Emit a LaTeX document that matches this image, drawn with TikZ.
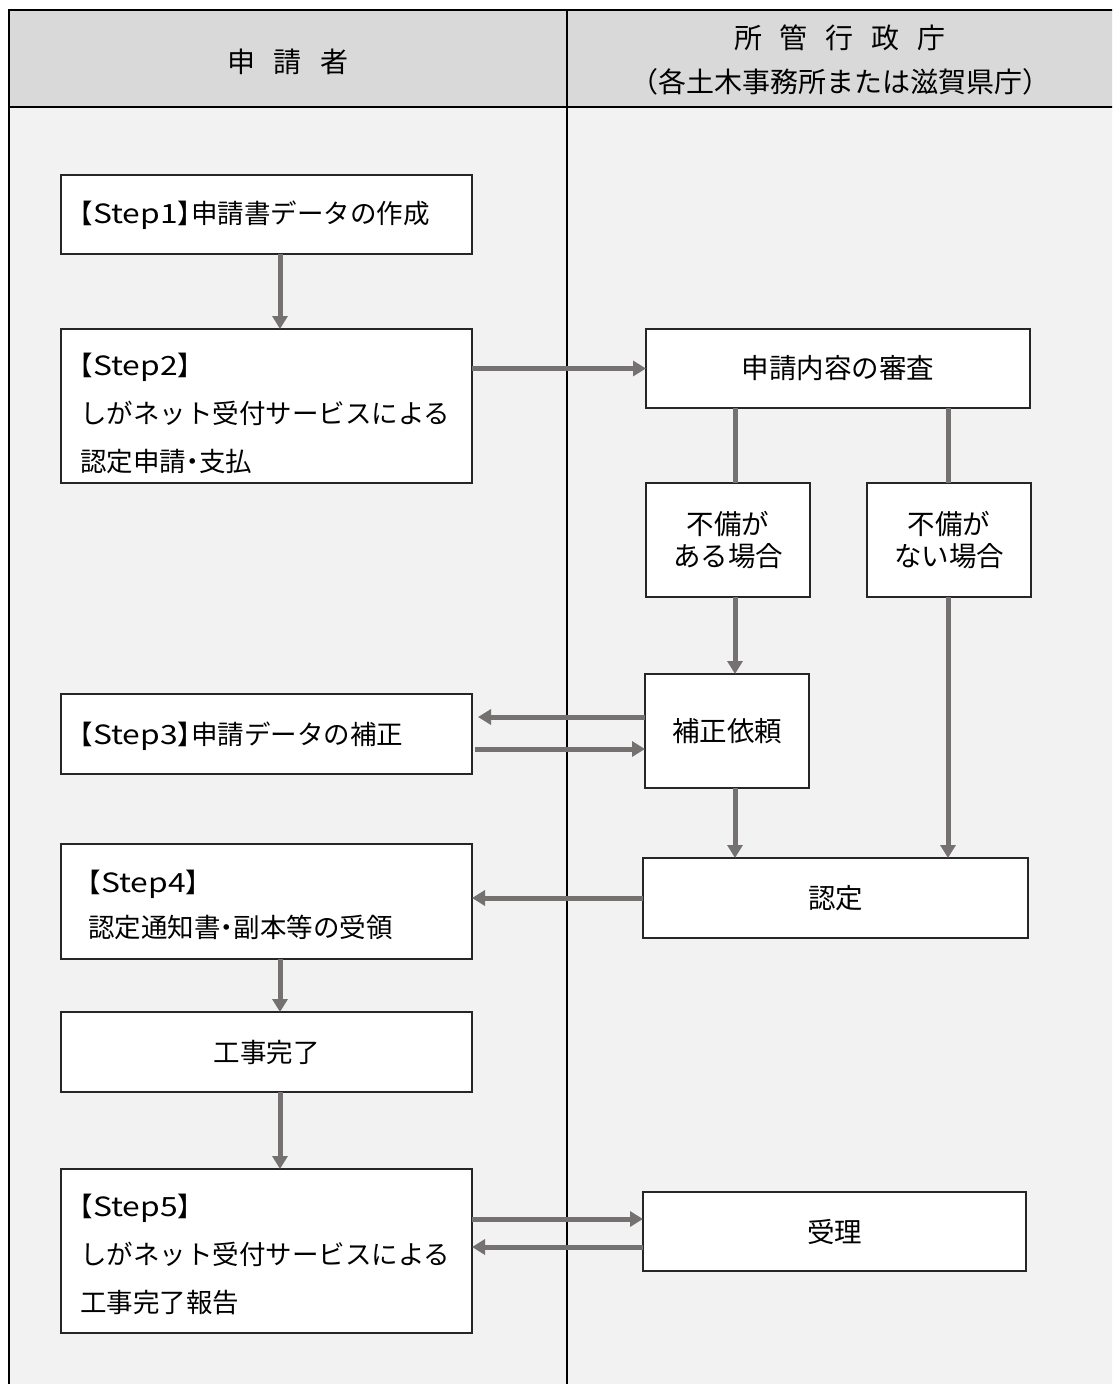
\documentclass[tikz,border=0pt]{standalone}
\usepackage{fontspec}
\setmainfont{Noto Sans CJK JP}
\newfontfamily\bxfont{Noto Sans CJK JP}[RawFeature=+halt]
\newfontfamily\latwide{Noto Sans CJK JP}[FakeStretch=1.2]
\usetikzlibrary{arrows.meta}
\definecolor{arr}{HTML}{767171}
\definecolor{hdr}{HTML}{D9D9D9}
\definecolor{bdy}{HTML}{F2F2F2}
\definecolor{bx}{HTML}{262626}
\newcommand{\stp}[1]{【{\latwide Step#1}】}
\begin{document}
\begin{tikzpicture}[x=1pt,y=-1pt,
  box/.style={draw=bx, line width=1.3pt, fill=white, inner sep=0pt, outer sep=0pt},
  lbox/.style={box, minimum width=411pt},
  ltext/.style={inner sep=0pt, text width=373pt, align=left, font=\bxfont\fontsize{26.5}{48}\selectfont},
  cbox/.style={box, align=center, font=\bxfont\fontsize{26.5}{32}\selectfont},
  rbox/.style={box, align=center, font=\bxfont\fontsize{27.5}{32}\selectfont},
  hdrtext/.style={inner sep=0pt, font=\fontsize{28}{34}\selectfont},
  flow/.style={draw=arr, line width=5pt, -{Triangle[length=13pt,width=15pt]}},
  link/.style={draw=arr, line width=5pt},
]
\path[use as bounding box] (0,0) rectangle (1112,1384);
\clip (0,0) rectangle (1112,1384);
% table background
\fill[white] (0,0) rectangle (1112,1384);
\fill[hdr] (9,10) rectangle (1115,107);
\fill[bdy] (9,107) rectangle (1115,1390);
\draw[line width=2.5pt] (9,1390) -- (9,10) -- (1115,10);
\draw[line width=2.5pt] (9,107) -- (1115,107);
\draw[line width=2pt] (567,10) -- (567,1390);
% headers
\node[hdrtext] (happ) at (288,62) {申\hspace{19pt}請\hspace{19pt}者};
\node[hdrtext] (hgov) at (840,38) {所\hspace{18pt}管\hspace{18pt}行\hspace{18pt}政\hspace{18pt}庁};
\node[hdrtext] (hgov2) at (840,82) {（各土木事務所または滋賀県庁）};
% left column boxes
\node[lbox, minimum height=79pt] (s1) at (266.5,214.5) {};
\node[lbox, minimum height=154pt] (s2) at (266.5,406) {};
\node[lbox, minimum height=80pt] (s3) at (266.5,734) {};
\node[lbox, minimum height=115pt] (s4) at (266.5,901.5) {};
\node[cbox, minimum width=411pt, minimum height=80pt] (done) at (266.5,1052) {工事完了};
\node[lbox, minimum height=164pt] (s5) at (266.5,1251) {};
% left column texts
\node[ltext] (s1t) at ([yshift=-1pt]s1.center) {\stp{1}申請書データの作成};
\node[ltext] (s2t) at ([yshift=-7pt]s2.center) {\stp{2}\\しがネット受付サービスによる\\認定申請・支払};
\node[ltext] (s3t) at ([yshift=-2pt]s3.center) {\stp{3}申請データの補正};
\node[ltext, text width=365pt, font=\bxfont\fontsize{26.5}{45}\selectfont] (s4t) at ([xshift=4pt,yshift=-3pt]s4.center) {\stp{4}\\認定通知書・副本等の受領};
\node[ltext] (s5t) at ([yshift=-3pt]s5.center) {\stp{5}\\しがネット受付サービスによる\\工事完了報告};
% right column
\node[rbox, minimum width=384pt, minimum height=79pt] (rev) at (838,368.5) {申請内容の審査};
\node[rbox, minimum width=164pt, minimum height=114pt] (ng1) at (728,540) {不備が\\ある場合};
\node[rbox, minimum width=164pt, minimum height=114pt] (ng2) at (949,540) {不備が\\ない場合};
\node[rbox, minimum width=164pt, minimum height=114pt] (fix) at (727,731) {補正依頼};
\node[rbox, minimum width=385pt, minimum height=80pt] (nin) at (835.5,898) {認定};
\node[rbox, minimum width=383pt, minimum height=79pt] (rec) at (834.5,1231.5) {受理};
% helper coordinates
\coordinate (lx) at (280,0);
\coordinate (ax) at (735,0);
\coordinate (bx) at (948,0);
\coordinate (ya) at (0,717);
\coordinate (yb) at (0,749);
\coordinate (yc) at (0,1219);
\coordinate (yd) at (0,1247);
% connectors
\draw[flow] (s1.south -| lx) -- (s2.north -| lx);
\draw[flow] (s2.east |- rev.west) -- (rev.west);
\draw[link] (rev.south -| ax) -- (ng1.north -| ax);
\draw[link] (rev.south -| bx) -- (ng2.north -| bx);
\draw[flow] (ng1.south -| ax) -- (fix.north -| ax);
\draw[flow] (fix.west |- ya) -- ([xshift=6pt]s3.east |- ya);
\draw[flow] ([xshift=3pt]s3.east |- yb) -- (fix.west |- yb);
\draw[flow] (fix.south -| ax) -- (nin.north -| ax);
\draw[flow] (ng2.south -| bx) -- (nin.north -| bx);
\draw[flow] (nin.west) -- (s4.east |- nin.west);
\draw[flow] (s4.south -| lx) -- (done.north -| lx);
\draw[flow] (done.south -| lx) -- (s5.north -| lx);
\draw[flow] (s5.east |- yc) -- (rec.west |- yc);
\draw[flow] (rec.west |- yd) -- (s5.east |- yd);
\end{tikzpicture}
\end{document}
